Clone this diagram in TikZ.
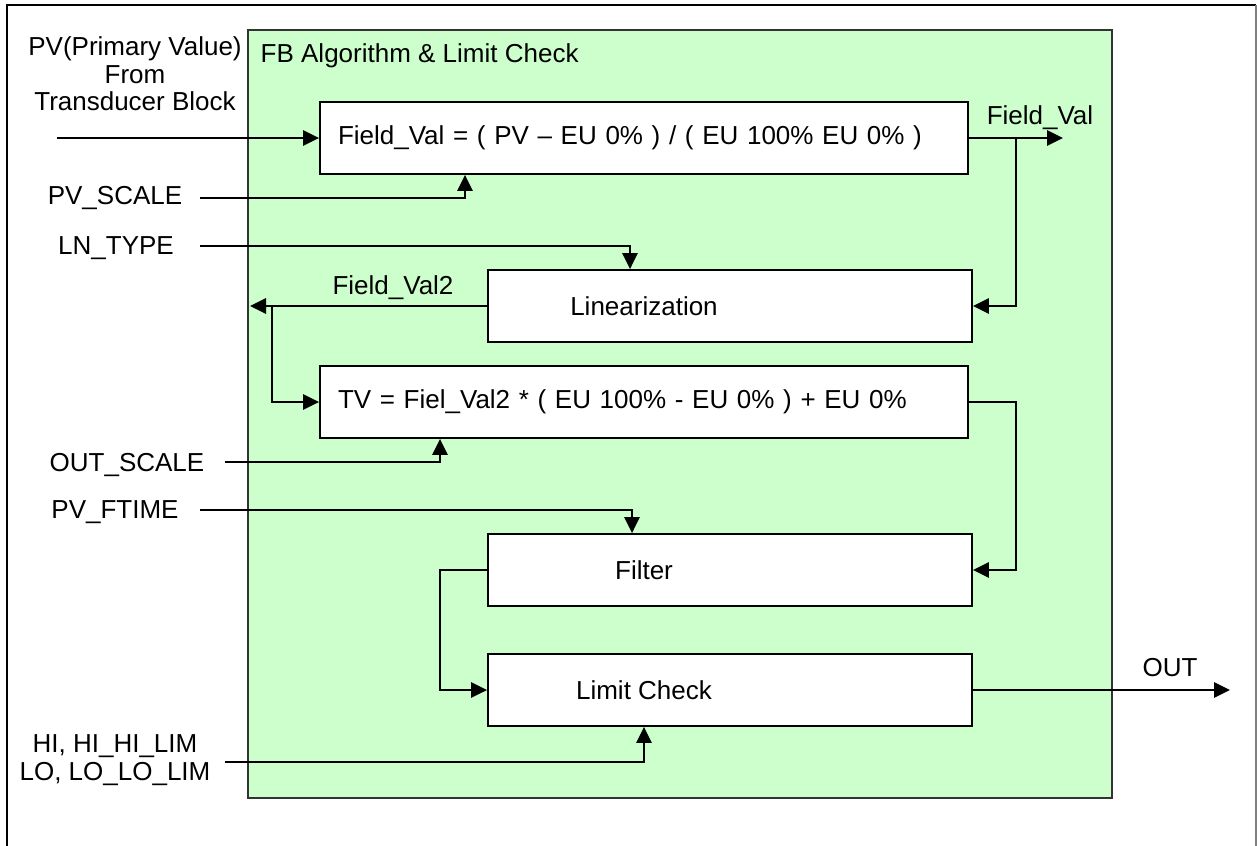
\documentclass[tikz,border=0pt]{standalone}
\usepackage{fontspec}
\setmainfont{Liberation Sans}
\usepackage{xcolor}
\usepackage{tikz}
\usetikzlibrary{arrows.meta}
\usetikzlibrary{calc}
\definecolor{fbgreen}{HTML}{CCFFCC}
\tikzset{
    blockbox/.style={draw,line width=1.4pt,fill=white,minimum height=54pt,inner sep=0pt},
    formbox/.style={blockbox,minimum width=486pt,text width=459pt,inner xsep=13.5pt,align=left},
    smallbox/.style={blockbox,minimum width=363pt},
    arr/.style={line width=1.4pt,-{Triangle[length=12pt,width=11.5pt]}},
    wire/.style={line width=1.4pt}
}

\begin{document}
\begin{tikzpicture}[x=0.75pt,y=-0.75pt,font=\fontsize{19.5}{20.5}\selectfont]
        \useasboundingbox (0,0) rectangle (1257,846);
        \draw[line width=2.2pt] (7,846)--(7,5)--(1256,5);
        \draw[gray,line width=1pt] (1256,5)--(1256,846);
        % function block frame
        \filldraw[fill=fbgreen,draw=black!80,line width=1.1pt] (248,30) rectangle (1112,798);
        \node[anchor=west] (fbtitle) at (256,56) {FB Algorithm \& Limit Check};
        % blocks
        \node[formbox] (fvbox) at (644,138) {Field\_Val = ( PV – EU 0\% ) / ( EU 100\% EU 0\% )};
        \node[smallbox] (linbox) at (730,306) {};
        \node (lintext) at (644,306) {Linearization};
        \node[formbox] (tvbox) at (644,402) {TV = Fiel\_Val2 * ( EU 100\% - EU 0\% ) + EU 0\%};
        \node[smallbox] (filtbox) at (730,570) {};
        \node (filttext) at (644,570) {Filter};
        \node[smallbox] (limbox) at (730,690) {};
        \node (limtext) at (644,690) {Limit Check};
        % inputs
        \node[align=center] (pvtext) at (135,74) {PV(Primary Value)\\From\\Transducer Block};
        \node (pvscale) at (115,198) {PV\_SCALE};
        \node (lntype) at (116,248) {LN\_TYPE};
        \node (outscale) at (127,465) {OUT\_SCALE};
        \node (pvftime) at (115,512) {PV\_FTIME};
        \node[align=center] (hilo) at (115,760) {HI, HI\_HI\_LIM\\LO, LO\_LO\_LIM};
        \node (fvlabel) at (1040,118) {Field\_Val};
        \node (fv2label) at (393,288) {Field\_Val2};
        \node (outlabel) at (1170,668) {OUT};
        \coordinate (pvin) at (57,138);
        \coordinate (pvscalein) at (200,198);
        \coordinate (lnin) at (200,246);
        \coordinate (outscalein) at (225,462);
        \coordinate (ftimein) at (200,510);
        \coordinate (limin) at (225,762);
        \coordinate (fvout) at (1063,138);
        \coordinate (fvtap) at (1016,138);
        \coordinate (fv2out) at (250,306);
        \coordinate (fv2tap) at (272,306);
        \coordinate (tvturn) at (1016,402);
        \coordinate (filtturn) at (440,570);
        \coordinate (outend) at (1230,690);
        % connectors
        \draw[arr] (pvin)--(fvbox.west);
        \draw[arr] (pvscalein)-|($(fvbox.south)+(-179,0)$);
        \draw[arr] (fvbox.east)--(fvout);
        \draw[arr] (fvtap)|-(linbox.east);
        \draw[arr] (lnin)-|($(linbox.north)+(-100,0)$);
        \draw[arr] (linbox.west)--(fv2out);
        \draw[arr] (fv2tap)|-(tvbox.west);
        \draw[arr] (outscalein)-|($(tvbox.south)+(-204,0)$);
        \draw[arr] (tvbox.east)--(tvturn)|-(filtbox.east);
        \draw[arr] (ftimein)-|($(filtbox.north)+(-98,0)$);
        \draw[arr] (filtbox.west)--(filtturn)|-(limbox.west);
        \draw[arr] (limin)-|($(limbox.south)+(-86,0)$);
        \draw[arr] (limbox.east)--(outend);
    \end{tikzpicture}
\end{document}
